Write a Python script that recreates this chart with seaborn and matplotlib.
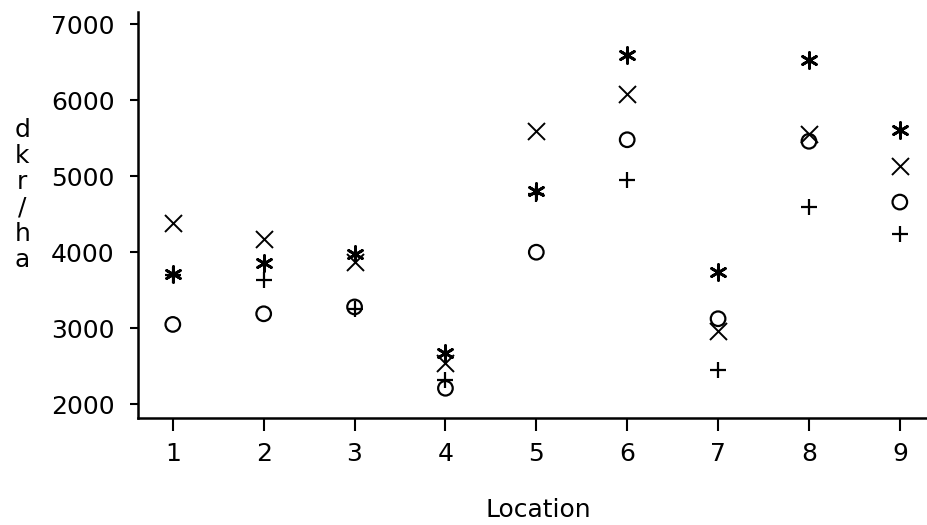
import matplotlib
matplotlib.use("Agg")
import matplotlib.pyplot as plt
import seaborn as sns
import pandas as pd

# yields (dkr/ha) per location, one list per treatment symbol
locations = [1, 2, 3, 4, 5, 6, 7, 8, 9]
yield_cross = [4380, 4170, 3870, 2540, 5590, 6085, 2970, 5550, 5130]
yield_star = [3710, 3860, 3975, 2670, 4805, 6600, 3745, 6530, 5610]
yield_plus = [3700, 3630, 3250, 2320, 4760, 4950, 2450, 4590, 4240]
yield_circle = [3050, 3190, 3280, 2210, 4000, 5480, 3125, 5460, 4660]

sns.set_style("ticks")
plt.rcParams['font.family'] = ['DejaVu Sans']
plt.rcParams['text.color'] = 'black'
plt.rcParams['xtick.labelcolor'] = 'black'
plt.rcParams['ytick.labelcolor'] = 'black'

fig = plt.figure(figsize=(9.28, 5.25), dpi=100)
ax = fig.add_axes([0.149, 0.204, 0.851, 0.773])

df = pd.DataFrame({
    'location': locations * 4,
    'yield': yield_cross + yield_star + yield_plus + yield_circle,
    'series': ['cross'] * 9 + ['star'] * 9 + ['plus'] * 9 + ['circle'] * 9,
})

# marker style for each series
styles = {
    'cross': dict(marker='x', s=150, color='black', linewidth=1.4),
    'star': dict(marker=(6, 2, 0), s=130, color='black', linewidth=2.0),
    'plus': dict(marker='+', s=140, color='black', linewidth=1.6),
    'circle': dict(marker='o', s=110, facecolor='none', edgecolor='black', linewidth=1.6),
}

for name, kw in styles.items():
    sub = df[df['series'] == name]
    sns.scatterplot(data=sub, x='location', y='yield', ax=ax, legend=False, **kw)

ax.set_xlim(0.62, 9.31)
ax.set_ylim(1820, 7160)
ax.set_xticks(locations)
ax.set_yticks([2000, 3000, 4000, 5000, 6000, 7000])
ax.tick_params(axis='both', labelsize=18, width=1.5, direction='out', color='black')
ax.tick_params(axis='x', length=9, pad=8)
ax.tick_params(axis='y', length=6, pad=11)
for side in ['left', 'bottom']:
    ax.spines[side].set_linewidth(1.8)
    ax.spines[side].set_color('black')
sns.despine(ax=ax)

ax.set_xlabel('')
ax.set_ylabel('')
fig.text(0.58, 0.006, 'Location', ha='center', va='bottom', fontsize=18)
fig.text(0.024, 0.629, 'd\nk\nr\n/\nh\na', ha='center', va='center', fontsize=18, linespacing=1.1)

fig.savefig('out.png', dpi=100, facecolor='white')
